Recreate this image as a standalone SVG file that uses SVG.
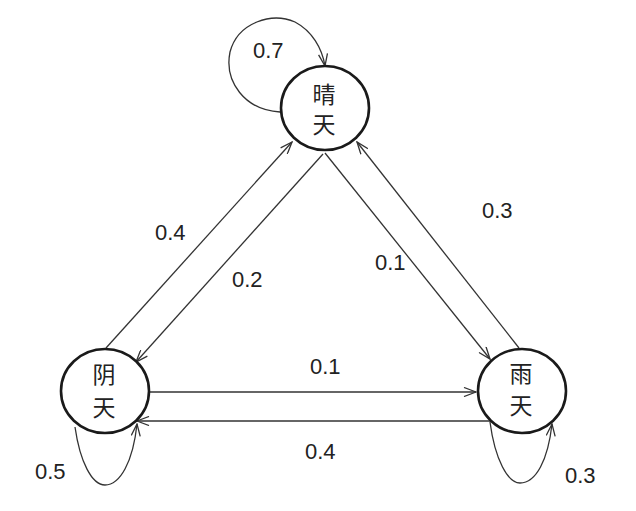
<svg xmlns="http://www.w3.org/2000/svg" width="636" height="511" viewBox="0 0 636 511">
<style>
.node{fill:#fff;stroke:#1a1a1a;stroke-width:2.6}
.edge{fill:none;stroke:#333;stroke-width:1.3;marker-end:url(#arr)}
.lbl{font-family:"Liberation Sans",Arial,sans-serif;font-size:22px;fill:#222}
.cjk{font-family:"Noto Sans CJK SC","Noto Sans",sans-serif;font-size:23px;fill:#222;text-anchor:middle}
</style>
<defs>
<marker id="arr" viewBox="0 0 14 10" refX="13" refY="5" markerWidth="14" markerHeight="10" markerUnits="userSpaceOnUse" orient="auto">
<path d="M1,0.5 L13,5 L1,9.5" fill="none" stroke="#333" stroke-width="1.3"/>
</marker>
</defs>
<rect width="636" height="511" fill="#fff"/>
<g id="connectors">
<path class="edge" d="M106,348 L292,142"/>
<path class="edge" d="M323,154 L136,362"/>
<path class="edge" d="M325,153 L490,359"/>
<path class="edge" d="M519,348 L357,142"/>
<path class="edge" d="M149,392 L476,392"/>
<path class="edge" d="M490,421 L137,421"/>
<path class="edge" d="M280,112 C245,110 224,82 230,52 C238,22 272,12 295,22 C312,31 322,48 325,66"/>
<path class="edge" d="M75,427 C80,462 92,485 105,485 C120,485 133,462 137,424"/>
<path class="edge" d="M490,422 C495,460 508,483 520,483 C536,483 548,460 552,424"/>
</g>
<g id="node-qing">
<ellipse class="node" cx="325" cy="108" rx="44" ry="42"/>
<text class="cjk" x="324" y="103">晴</text>
<text class="cjk" x="324" y="133">天</text>
</g>
<g id="node-yin">
<ellipse class="node" cx="105" cy="391" rx="44" ry="42"/>
<text class="cjk" x="104" y="383">阴</text>
<text class="cjk" x="104" y="416">天</text>
</g>
<g id="node-yu">
<ellipse class="node" cx="522" cy="391" rx="44" ry="42"/>
<text class="cjk" x="521" y="382">雨</text>
<text class="cjk" x="521" y="414">天</text>
</g>
<g id="labels">
<text class="lbl" x="253" y="58">0.7</text>
<text class="lbl" x="155" y="240">0.4</text>
<text class="lbl" x="232" y="287">0.2</text>
<text class="lbl" x="375" y="270">0.1</text>
<text class="lbl" x="482" y="218">0.3</text>
<text class="lbl" x="310" y="374">0.1</text>
<text class="lbl" x="305" y="459">0.4</text>
<text class="lbl" x="35" y="479">0.5</text>
<text class="lbl" x="565" y="483">0.3</text>
</g>
</svg>
